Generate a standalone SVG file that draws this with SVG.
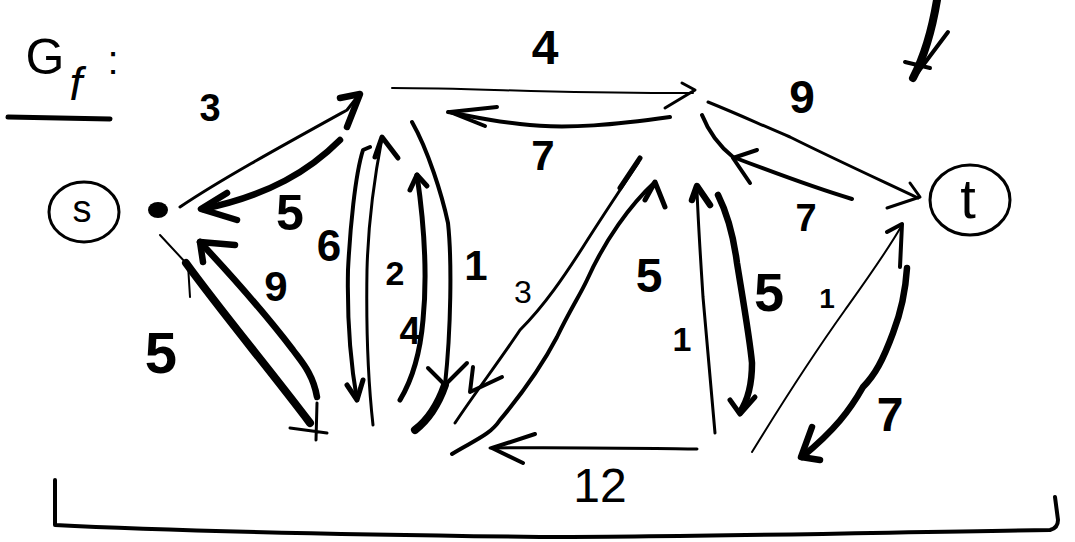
<svg xmlns="http://www.w3.org/2000/svg" width="1075" height="542" viewBox="0 0 1075 542">
<style>
.e{fill:none;stroke:#000;stroke-linecap:round;stroke-linejoin:round}
.w2{stroke-width:2}
.w3{stroke-width:3}
.w4{stroke-width:4}
.w5{stroke-width:5}
.w6{stroke-width:6.5}
.w8{stroke-width:8}
.lb{font-family:"Liberation Sans","DejaVu Sans",sans-serif;font-size:44px;font-weight:bold;fill:#000;text-anchor:middle;dominant-baseline:central}
</style>
<rect width="1075" height="542" fill="#fff"/>

<g id="title">
<text x="45" y="57" class="lb" style="font-size:50px;font-weight:normal">G</text>
<text x="76" y="84" class="lb" style="font-size:46px;font-style:italic;font-weight:normal">f</text>
<text x="113" y="60" class="lb" style="font-size:40px;font-weight:normal">:</text>
<path class="e w5" d="M8,117 L110,119"/>
</g>

<g id="node-s">
<ellipse cx="84" cy="212" rx="35" ry="30" class="e w3"/>
<text x="82" y="209" class="lb" style="font-size:38px;font-weight:normal">s</text>
</g>
<g id="node-s-point">
<ellipse cx="158" cy="210" rx="10" ry="8" fill="#000"/>
</g>
<g id="node-t">
<ellipse cx="970" cy="200" rx="40" ry="35" class="e w3"/>
<text x="968" y="198" class="lb" style="font-size:56px;font-weight:normal">t</text>
</g>

<g id="connectors">
<!-- s -> A (3) -->
<path class="e w3" d="M180,207 C220,180 280,147 347,110 L358,96"/>
<path class="e w6" d="M340,98 L360,94 L347,127"/>
<!-- A -> s (5) -->
<path class="e w6" d="M340,140 C310,170 270,195 203,209"/>
<path class="e w6" d="M227,193 L201,209 L237,220"/>
<!-- s -> C (5) -->
<path class="e w2" d="M160,235 L186,263"/>
<path class="e w8" d="M186,263 C220,310 270,370 310,423"/>
<path class="e w2" d="M188,265 L190,297"/>
<path class="e w3" d="M290,428 L327,433 M317,403 L316,440"/>
<!-- C -> s (9) -->
<path class="e w6" d="M317,397 C313,373 300,360 293,350 C270,320 245,290 200,242"/>
<path class="e w6" d="M235,245 L200,242 L203,262"/>
<!-- A -> C (6) -->
<path class="e w4" d="M370,147 L363,150 C355,175 350,230 348,270 C347,320 350,360 357,400"/>
<path class="e w5" d="M347,385 L357,400 L363,380"/>
<!-- C -> A (2) -->
<path class="e w3" d="M373,425 C368,380 366,330 367,270 C368,230 372,190 382,138"/>
<path class="e w5" d="M375,157 L382,137 L398,158"/>
<!-- D -> A (4) -->
<path class="e w5" d="M400,400 C412,380 420,355 423,320 C427,280 425,230 417,175"/>
<path class="e w5" d="M410,190 L417,175 L427,186"/>
<!-- A -> D (1) -->
<path class="e w4" d="M412,122 C428,150 442,195 448,223 C452,260 451,330 445,385"/>
<path class="e w8" d="M445,385 C438,405 428,420 415,430"/>
<path class="e w4" d="M428,368 L445,385 L467,363"/>
<!-- A -> B (4) -->
<path class="e w2" d="M392,88 C480,88 560,94 693,93"/>
<path class="e w3" d="M682,83 L695,90 L665,108"/>
<!-- B -> A (7) -->
<path class="e w4" d="M670,117 C620,124 567,130 520,124 C490,121 470,116 448,112"/>
<path class="e w4" d="M497,107 L450,112 L485,126"/>
<!-- B -> t (9) -->
<path class="e w3" d="M708,102 C740,115 757,123 790,137 C830,157 880,180 918,198"/>
<path class="e w3" d="M910,183 L920,197 L887,208"/>
<!-- t -> B (7) -->
<path class="e w4" d="M852,199 C815,188 780,175 733,157 C718,145 708,130 702,115"/>
<path class="e w4" d="M757,150 L733,158 L750,183"/>
<!-- B -> D (3) -->
<path class="e w5" d="M640,158 L620,188"/>
<path class="e w3" d="M638,163 C620,190 600,220 583,247 C565,275 545,305 520,330 C500,360 475,393 455,423"/>
<path class="e w4" d="M473,367 L470,392 L502,377"/>
<!-- D -> B (5) -->
<path class="e w4" d="M452,454 C475,440 490,435 500,420 C525,390 545,360 557,337 C570,310 580,295 587,280 C605,240 630,205 655,182"/>
<path class="e w5" d="M645,200 L655,182 L665,207"/>
<!-- E -> D (12) -->
<path class="e w3" d="M697,449 C620,448 560,447 490,448"/>
<path class="e w4" d="M535,434 L492,448 L523,463"/>
<!-- E -> B (1) -->
<path class="e w3" d="M715,433 C710,380 706,330 703,297 C700,250 698,220 697,190"/>
<path class="e w6" d="M692,200 L697,186 L710,205"/>
<!-- B -> E (5) -->
<path class="e w6" d="M718,195 C728,215 734,240 737,263 C743,300 750,340 752,363 C752,385 748,400 740,412"/>
<path class="e w5" d="M730,400 L740,414 L755,397"/>
<!-- F -> t (1) -->
<path class="e w2" d="M752,452 C790,390 820,345 845,310 C870,275 888,250 902,225"/>
<path class="e w4" d="M887,232 L902,224 L900,267"/>
<!-- t -> F (7) -->
<path class="e w6" d="M907,268 C905,300 898,320 893,333 C883,360 875,375 863,387 C850,410 835,430 802,457"/>
<path class="e w6" d="M812,427 L801,457 L820,460"/>
</g>

<g id="labels">
<text x="210" y="108" class="lb" style="font-size:38px">3</text>
<text x="545" y="47" class="lb" style="font-size:48px">4</text>
<text x="802" y="97" class="lb" style="font-size:46px">9</text>
<text x="543" y="155" class="lb" style="font-size:42px">7</text>
<text x="290" y="213" class="lb" style="font-size:50px">5</text>
<text x="329" y="245" class="lb" style="font-size:44px">6</text>
<text x="395" y="273" class="lb" style="font-size:34px">2</text>
<text x="476" y="265" class="lb" style="font-size:42px">1</text>
<text x="276" y="286" class="lb" style="font-size:42px">9</text>
<text x="161" y="352" class="lb" style="font-size:58px">5</text>
<text x="410" y="331" class="lb" style="font-size:38px">4</text>
<text x="523" y="292" class="lb" style="font-size:32px;font-weight:normal">3</text>
<text x="649" y="275" class="lb" style="font-size:48px">5</text>
<text x="806" y="218" class="lb" style="font-size:38px">7</text>
<text x="682" y="339" class="lb" style="font-size:34px">1</text>
<text x="769" y="292" class="lb" style="font-size:54px">5</text>
<text x="827" y="298" class="lb" style="font-size:28px">1</text>
<text x="890" y="414" class="lb" style="font-size:48px">7</text>
<text x="600" y="485" class="lb" style="font-size:48px;font-weight:normal">12</text>
</g>

<g id="annotation-arrow">
<path class="e w8" d="M937,0 C932,30 925,55 913,78"/>
<path class="e w4" d="M948,32 L918,72 M905,62 L930,68"/>
</g>

<g id="bracket">
<path class="e w4" d="M55,480 L55,525 C150,530 300,534 540,537 C700,537 900,532 1050,530 Q1058,528 1058,520 L1055,497"/>
</g>
</svg>
